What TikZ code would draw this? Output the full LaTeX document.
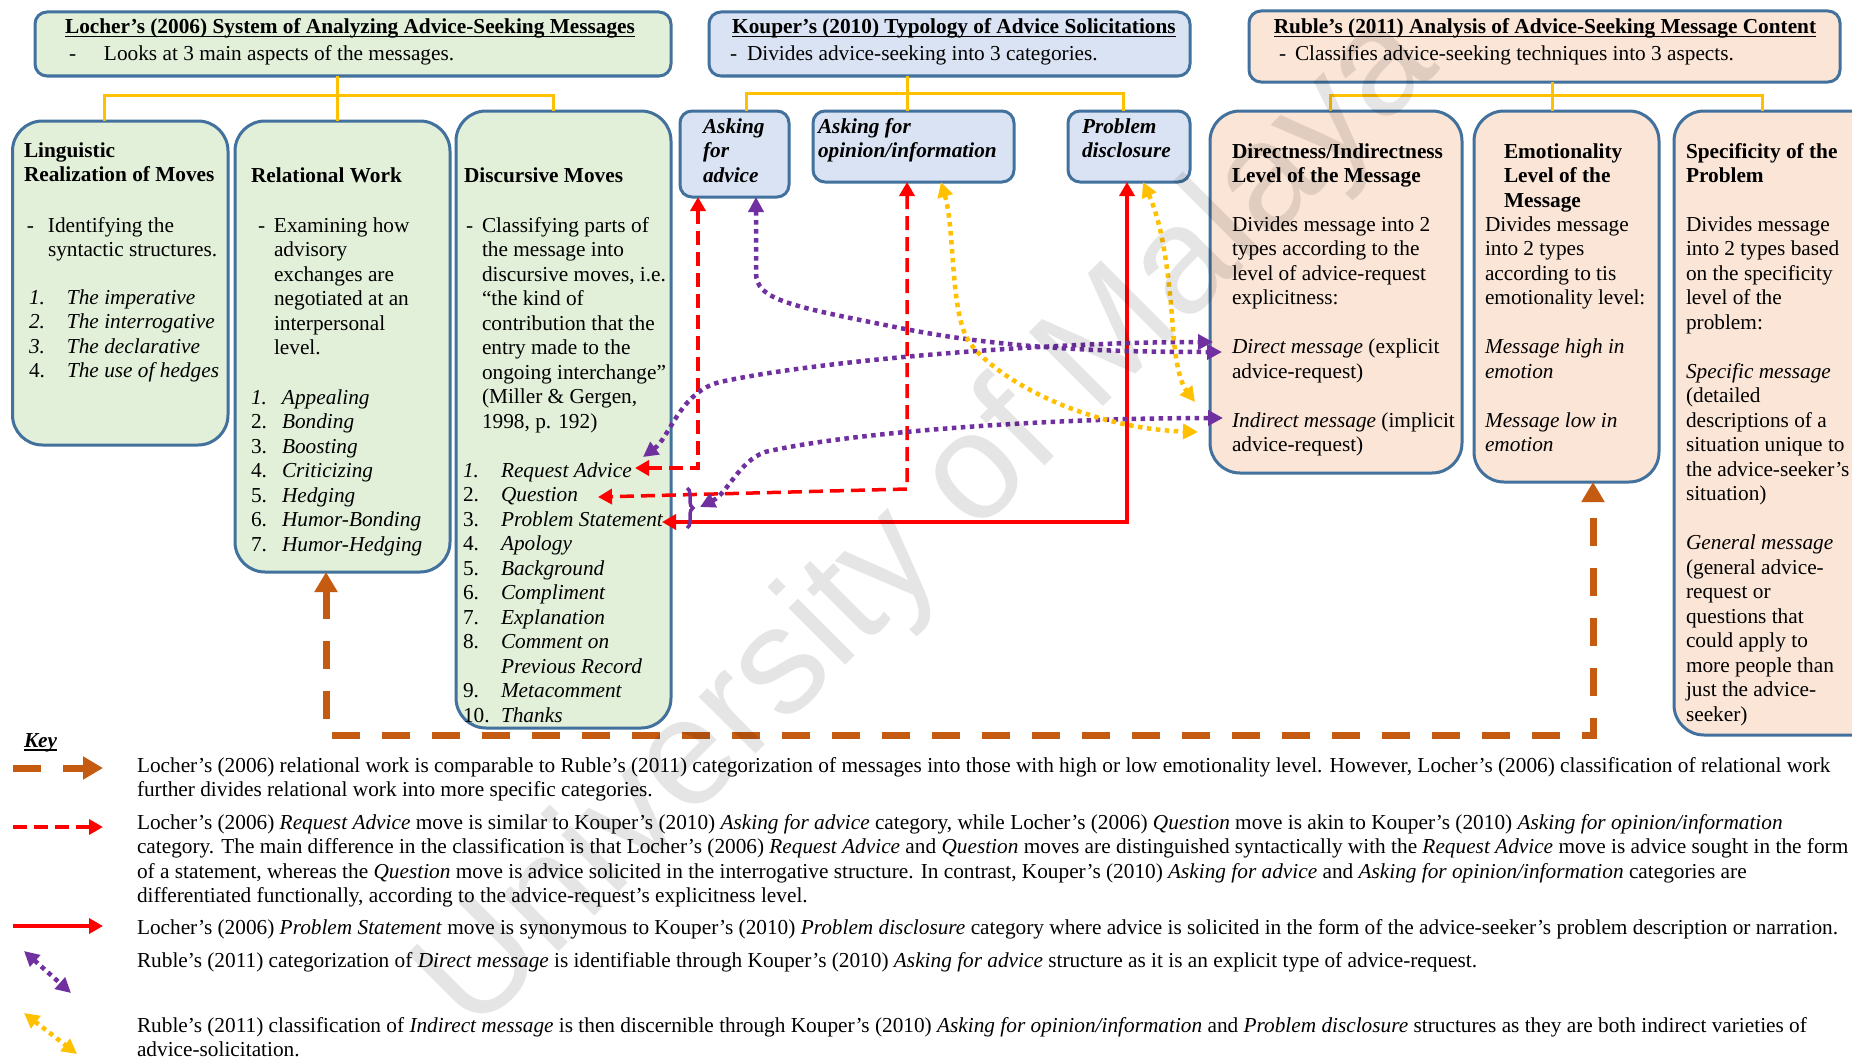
\documentclass[tikz,border=0pt]{standalone}
\usepackage{fontspec}
\setmainfont{Liberation Serif}
\newfontfamily\wmfont{Liberation Sans}
\usetikzlibrary{arrows.meta,decorations.pathreplacing}

\definecolor{boxline}{HTML}{41719C}
\definecolor{greenfill}{HTML}{E2EFD9}
\definecolor{bluefill}{HTML}{DAE3F3}
\definecolor{peachfill}{HTML}{FBE5D6}
\definecolor{treeyellow}{HTML}{FFC000}
\definecolor{relorange}{HTML}{C55A11}
\definecolor{linkred}{HTML}{FF0000}
\definecolor{linkpurple}{HTML}{7030A0}

\newcommand{\bodyfont}{\fontsize{21.3}{24.5}\selectfont}
\newcommand{\blk}[1]{\begin{tabular}[t]{@{}l@{}}#1\end{tabular}}
\newcommand{\hang}[2]{\begin{tabular}[t]{@{}p{#1}@{}l@{}}#2\end{tabular}}
\newcommand{\lnum}[2]{\makebox[#1][l]{#2}}
\newcommand{\titleul}[1]{\setbox0\hbox{#1}\rlap{\rule[-3.5pt]{\wd0}{1.4pt}}\box0}

\begin{document}
\begin{tikzpicture}[x=1pt,y=-1pt,
  every node/.style={inner sep=0pt, outer sep=0pt},
  panel/.style={draw=boxline, line width=3pt, rounded corners=#1, anchor=north west},
  txt/.style={anchor=base west, font=\bodyfont},
  ctxt/.style={anchor=base, font=\bodyfont},
  tree/.style={draw=treeyellow, line width=3pt},
  relline/.style={draw=relorange, line width=7pt, dash pattern=on 28pt off 22pt},
  reddash/.style={draw=linkred, line width=3.5pt, dash pattern=on 14pt off 7pt},
  redsolid/.style={draw=linkred, line width=3.5pt},
  purpdot/.style={draw=linkpurple, line width=4.5pt, dash pattern=on 4.5pt off 4.5pt},
  yeldot/.style={draw=treeyellow, line width=4.5pt, dash pattern=on 4.5pt off 4.5pt},
  bigtips/.style={arrows={Triangle[length=20pt,width=22pt]-Triangle[length=20pt,width=22pt]}},
  redtips/.style={arrows={Triangle[length=14pt,width=15pt]-Triangle[length=14pt,width=15pt]}},
  dottips/.style={arrows={Triangle[length=15pt,width=15pt]-Triangle[length=15pt,width=15pt]}},
  groupbrace/.style={draw=linkpurple, line width=3.5pt, decorate, decoration={brace, amplitude=6pt}}
]
\useasboundingbox (0,0) rectangle (1852,1057);
\clip (0,0) rectangle (1852,1057);
\fill[white] (0,0) rectangle (1852,1057);

% ---------- header panels ----------
\node[panel=12pt, fill=greenfill, minimum width=636pt, minimum height=64pt] (locher) at (35,12) {};
\node[panel=12pt, fill=bluefill, minimum width=481pt, minimum height=64pt] (kouper) at (709,12) {};
\node[panel=12pt, fill=peachfill, minimum width=591pt, minimum height=71pt] (ruble) at (1249,11) {};

% ---------- Locher: three aspects ----------
\node[panel=30pt, fill=greenfill, minimum width=215.5pt, minimum height=324pt] (ling) at (12.5,121) {};
\node[panel=30pt, fill=greenfill, minimum width=215pt, minimum height=451pt] (rel) at (235,121) {};
\node[panel=30pt, fill=greenfill, minimum width=215pt, minimum height=617pt] (disc) at (456,111) {};

% ---------- Kouper: three categories ----------
\node[panel=12pt, fill=bluefill, minimum width=109pt, minimum height=86pt] (advbox) at (680,111) {};
\node[panel=12pt, fill=bluefill, minimum width=201pt, minimum height=71pt] (opin) at (813,111) {};
\node[panel=12pt, fill=bluefill, minimum width=122pt, minimum height=71pt] (prob) at (1068,111) {};

% ---------- Ruble: three aspects ----------
\node[panel=30pt, fill=peachfill, minimum width=252pt, minimum height=362pt] (dir) at (1210,111) {};
\node[panel=30pt, fill=peachfill, minimum width=185pt, minimum height=371pt] (emo) at (1474,111) {};
\node[panel=30pt, fill=peachfill, minimum width=216pt, minimum height=624pt] (spec) at (1674,111) {};

% ---------- tree connectors ----------
\draw[tree] ([xshift=-5.5pt]rel.north) -- ++(0,-45);
\draw[tree] ([xshift=-16pt]ling.north) -- ++(0,-26) -| ([xshift=-10pt]disc.north);
\draw[tree] ([xshift=-6.5pt]opin.north) -- ++(0,-35);
\draw[tree] ([xshift=11.5pt]advbox.north) -- ++(0,-18) -| ([xshift=-6pt]prob.north);
\draw[tree] ([xshift=-14.5pt]emo.north) -- ++(0,-29);
\draw[tree] ([xshift=-6pt]dir.north) -- ++(0,-16) -| ([xshift=-20pt]spec.north);

% ---------- end points of the comparison links ----------
\coordinate (reqEnd) at (635,468);
\coordinate (quesEnd) at (598,497);
\coordinate (probEnd) at (662,522);
\coordinate (reqPur) at (643,457);
\coordinate (braceTip) at (700,507);
\coordinate (braceTop) at (687,488);
\coordinate (braceBot) at (687,528);
\coordinate (dirUp) at (1213,342);
\coordinate (dirLow) at (1222,352);
\coordinate (indirPur) at (1223,418);
\coordinate (indirYelUp) at (1195,402);
\coordinate (indirYelLow) at (1198,432);
\coordinate (relCorner) at (326,735);

% relational work <-> emotionality
\draw[relline, bigtips] ([xshift=-16.5pt]rel.south) -- (relCorner) -| ([xshift=26.5pt]emo.south);

% red links
\draw[reddash, redtips] ([xshift=-36.5pt]advbox.south) |- (reqEnd);
\draw[reddash, redtips] ([xshift=-6.5pt]opin.south) -- ++(0,307) -- (quesEnd);
\draw[redsolid, redtips] ([xshift=-2pt]prob.south) |- (probEnd);

% purple links
\draw[purpdot, dottips] ([xshift=21.5pt]advbox.south) -- (756,273) .. controls (756,300) and (790,306) .. (900,328) .. controls (1000,348) and (1100,352) .. (dirLow);
\draw[purpdot, dottips] (reqPur) .. controls (670,437) and (680,392) .. (720,382) .. controls (820,360) and (1050,342) .. (dirUp);
\draw[purpdot, dottips] (braceTip) .. controls (728,493) and (738,462) .. (765,452) .. controls (850,432) and (1050,418) .. (indirPur);
\draw[groupbrace] (braceTop) -- (braceBot);

% yellow links
\draw[yeldot, dottips] ([xshift=27.5pt]opin.south) .. controls (955,230) and (950,310) .. (968,340) .. controls (990,375) and (1080,428) .. (indirYelLow);
\draw[yeldot, dottips] ([xshift=14pt]prob.south) .. controls (1165,230) and (1170,290) .. (1173,330) .. controls (1176,370) and (1182,385) .. (indirYelUp);

% ---------- header texts ----------
\node[ctxt] (locherTitle) at (350,34) {\titleul{\textbf{Locher’s (2006) System of Analyzing Advice-Seeking Messages}}};
\node[txt] (locherSub) at (69,60) {\lnum{35pt}{-}Looks at 3 main aspects of the messages.};
\node[ctxt] (kouperTitle) at (954,34) {\titleul{\textbf{Kouper’s (2010) Typology of Advice Solicitations}}};
\node[txt] (kouperSub) at (730,60) {\lnum{17pt}{-}Divides advice-seeking into 3 categories.};
\node[ctxt] (rubleTitle) at (1545,34) {\titleul{\textbf{Ruble’s (2011) Analysis of Advice-Seeking Message Content}}};
\node[txt] (rubleSub) at (1279,60) {\lnum{16pt}{-}Classifies advice-seeking techniques into 3 aspects.};

% ---------- Locher panel texts ----------
\node[txt] (lingHead) at (24,157) {\bfseries\blk{Linguistic\\Realization of Moves}};
\node[txt] (lingDesc) at (27,232) {\hang{21pt}{-&Identifying the\\ &syntactic structures.}};
\node[txt] (lingList) at (29,304) {\hang{38pt}{\textit{1.}&\textit{The imperative}\\ \textit{2.}&\textit{The interrogative}\\ \textit{3.}&\textit{The declarative}\\ 4.&\textit{The use of hedges}}};

\node[txt] (relHead) at (251,182) {\textbf{Relational Work}};
\node[txt] (relDesc) at (258,232) {\hang{16pt}{-&Examining how\\ &advisory\\ &exchanges are\\ &negotiated at an\\ &interpersonal\\ &level.}};
\node[txt] (relList) at (251,404) {\hang{31pt}{\textit{1.}&\textit{Appealing}\\ 2.&\textit{Bonding}\\ 3.&\textit{Boosting}\\ 4.&\textit{Criticizing}\\ 5.&\textit{Hedging}\\ 6.&\textit{Humor-Bonding}\\ 7.&\textit{Humor-Hedging}}};

\node[txt] (discHead) at (464,182) {\textbf{Discursive Moves}};
\node[txt] (discDesc) at (466,232) {\hang{16pt}{-&Classifying parts of\\ &the message into\\ &discursive moves, i.e.\\ &“the kind of\\ &contribution that the\\ &entry made to the\\ &ongoing interchange”\\ &(Miller \& Gergen,\\ &1998, p. 192)}};
\node[txt] (discList) at (463,477) {\hang{38pt}{\textit{1.}&\textit{Request Advice}\\ 2.&\textit{Question}\\ 3.&\textit{Problem Statement}\\ 4.&\textit{Apology}\\ 5.&\textit{Background}\\ 6.&\textit{Compliment}\\ 7.&\textit{Explanation}\\ 8.&\textit{Comment on}\\ &\textit{Previous Record}\\ 9.&\textit{Metacomment}\\ 10.&\textit{Thanks}}};

% ---------- Kouper panel texts ----------
\node[txt] (advText) at (703,133) {\bfseries\itshape\blk{Asking\\for\\advice}};
\node[txt] (opinText) at (818,133) {\bfseries\itshape\blk{Asking for\\opinion/information}};
\node[txt] (probText) at (1082,133) {\bfseries\itshape\blk{Problem\\disclosure}};

% ---------- Ruble panel texts ----------
\node[txt] (dirHead) at (1232,158) {\bfseries\blk{Directness/Indirectness\\Level of the Message}};
\node[txt] (dirDesc) at (1232,231) {\blk{Divides message into 2\\types according to the\\level of advice-request\\explicitness:\\[24.5pt]\textit{Direct message} (explicit\\advice-request)\\[24.5pt]\textit{Indirect message} (implicit\\advice-request)}};
\node[txt] (emoHead) at (1504,158) {\bfseries\blk{Emotionality\\Level of the\\Message}};
\node[txt] (emoDesc) at (1485,231) {\blk{Divides message\\into 2 types\\according to tis\\emotionality level:\\[24.5pt]\textit{Message high in}\\\textit{emotion}\\[24.5pt]\textit{Message low in}\\\textit{emotion}}};
\node[txt] (specHead) at (1686,158) {\bfseries\blk{Specificity of the\\Problem}};
\node[txt] (specDesc) at (1686,231) {\blk{Divides message\\into 2 types based\\on the specificity\\level of the\\problem:\\[24.5pt]\textit{Specific message}\\(detailed\\descriptions of a\\situation unique to\\the advice-seeker’s\\situation)\\[24.5pt]\textit{General message}\\(general advice-\\request or\\questions that\\could apply to\\more people than\\just the advice-\\seeker)}};

% ---------- key ----------
\node[txt] (keyLabel) at (24,747) {\titleul{\textbf{\textit{Key}}}};

\coordinate (kOrangeA) at (13,768);  \coordinate (kOrangeB) at (103,768);
\coordinate (kRedDashA) at (13,827); \coordinate (kRedDashB) at (103,827);
\coordinate (kRedA) at (13,926);     \coordinate (kRedB) at (103,926);
\coordinate (kPurA) at (24,951);     \coordinate (kPurB) at (71,993);
\coordinate (kYelA) at (24,1013);    \coordinate (kYelB) at (77,1054);

\draw[relline, -{Triangle[length=20pt,width=22pt]}] (kOrangeA) -- (kOrangeB);
\draw[reddash, -{Triangle[length=14pt,width=15pt]}] (kRedDashA) -- (kRedDashB);
\draw[redsolid, -{Triangle[length=14pt,width=15pt]}] (kRedA) -- (kRedB);
\draw[purpdot, dottips] (kPurA) -- (kPurB);
\draw[yeldot, dottips] (kYelA) -- (kYelB);

\node[txt] (keyOne) at (137,772) {\blk{Locher’s (2006) relational work is comparable to Ruble’s (2011) categorization of messages into those with high or low emotionality level. However, Locher’s (2006) classification of relational work\\further divides relational work into more specific categories.}};
\node[txt] (keyTwo) at (137,829) {\blk{Locher’s (2006) \textit{Request Advice} move is similar to Kouper’s (2010) \textit{Asking for advice} category, while Locher’s (2006) \textit{Question} move is akin to Kouper’s (2010) \textit{Asking for opinion/information}\\category. The main difference in the classification is that Locher’s (2006) \textit{Request Advice} and \textit{Question} moves are distinguished syntactically with the \textit{Request Advice} move is advice sought in the form\\of a statement, whereas the \textit{Question} move is advice solicited in the interrogative structure. In contrast, Kouper’s (2010) \textit{Asking for advice} and \textit{Asking for opinion/information} categories are\\differentiated functionally, according to the advice-request’s explicitness level.}};
\node[txt] (keyThree) at (137,934) {Locher’s (2006) \textit{Problem Statement} move is synonymous to Kouper’s (2010) \textit{Problem disclosure} category where advice is solicited in the form of the advice-seeker’s problem description or narration.};
\node[txt] (keyFour) at (137,967) {Ruble’s (2011) categorization of \textit{Direct message} is identifiable through Kouper’s (2010) \textit{Asking for advice} structure as it is an explicit type of advice-request.};
\node[txt] (keyFive) at (137,1032) {\blk{Ruble’s (2011) classification of \textit{Indirect message} is then discernible through Kouper’s (2010) \textit{Asking for opinion/information} and \textit{Problem disclosure} structures as they are both indirect varieties of\\advice-solicitation.}};

% ---------- watermark ----------
\node[rotate=45, opacity=0.1, font=\wmfont\fontsize{152}{152}\selectfont] (watermark) at (930,525) {University of Malaya};
\end{tikzpicture}
\end{document}
